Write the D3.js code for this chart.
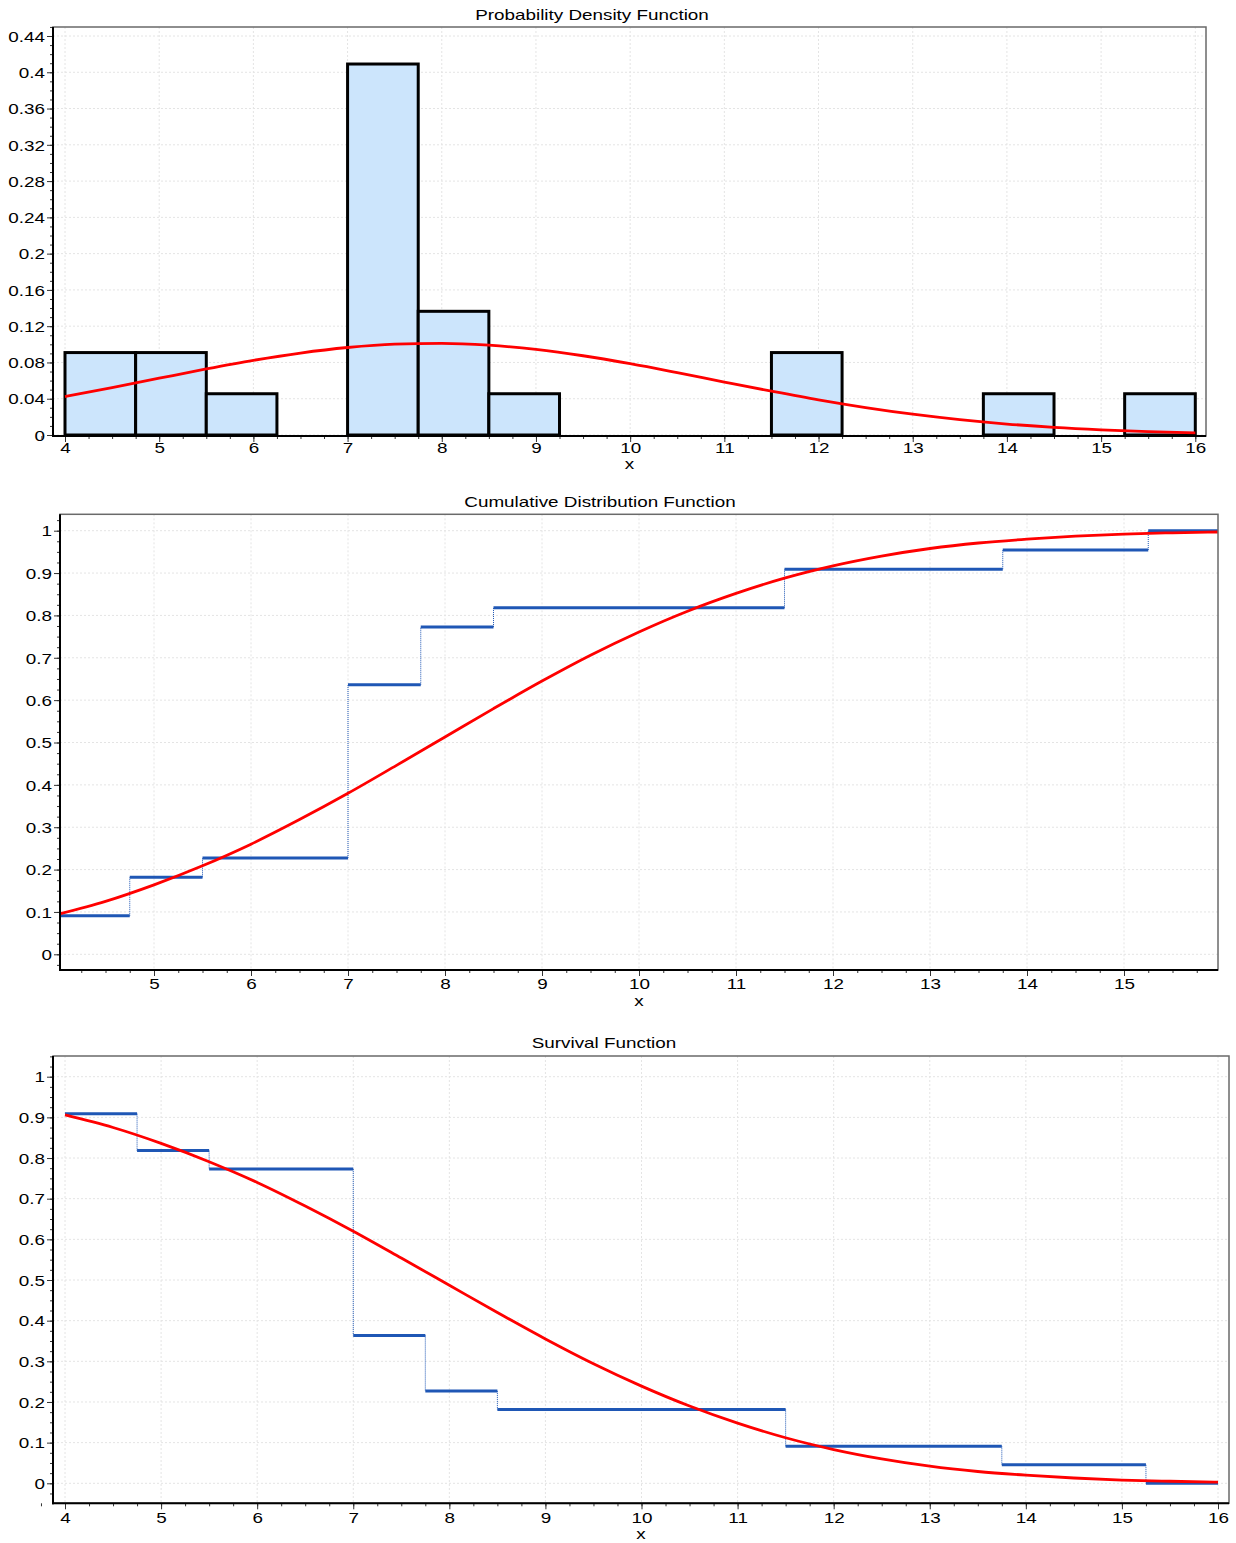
<!DOCTYPE html>
<html>
<head>
<meta charset="utf-8">
<script src="https://cdn.jsdelivr.net/npm/d3@7"></script>
<style>
  body { margin: 0; background: #fff; }
  svg text { font-family: "Liberation Sans", Arial, sans-serif; fill: #000; }
</style>
</head>
<body>
<svg id="chart" width="1236" height="1543"></svg>
<script>
// histogram (relative frequency per bin)
var binEdges = [4, 4.75, 5.5, 6.25, 7, 7.75, 8.5, 9.25, 10, 10.75, 11.5, 12.25, 13, 13.75, 14.5, 15.25, 16];
var binFreq = [0.0909, 0.0909, 0.0455, 0, 0.4091, 0.1364, 0.0455, 0, 0, 0, 0.0909, 0, 0, 0.0455, 0, 0.0455];

// empirical step functions
var stepX = [4, 4.75, 5.5, 7, 7.75, 8.5, 11.5, 13.75, 15.25, 16];
var cdfStep = [0.0909, 0.1818, 0.2273, 0.6364, 0.7727, 0.8182, 0.9091, 0.9545, 1.0];
var sfStep = [0.9091, 0.8182, 0.7727, 0.3636, 0.2273, 0.1818, 0.0909, 0.0455, 0];

// fitted curves
var curveX = [4, 4.5, 5, 5.5, 6, 6.5, 7, 7.5, 8, 8.5, 9, 9.5, 10, 10.5, 11, 11.5, 12, 12.5, 13, 13.5, 14, 14.5, 15, 15.5, 16];
var pdfFit = [0.0424, 0.0523, 0.0626, 0.0728, 0.0823, 0.0904, 0.0965, 0.1002, 0.1011, 0.0990, 0.0944, 0.0874, 0.0786,
              0.0687, 0.0584, 0.0483, 0.0387, 0.0302, 0.0229, 0.0169, 0.0121, 0.0084, 0.0057, 0.0037, 0.0024];
var cdfFit = [0.094, 0.125, 0.164, 0.209, 0.260, 0.318, 0.380, 0.446, 0.513, 0.580, 0.645, 0.706, 0.761,
              0.810, 0.852, 0.888, 0.917, 0.940, 0.958, 0.971, 0.980, 0.987, 0.992, 0.995, 0.997];
var sfFit = [0.906, 0.875, 0.836, 0.791, 0.740, 0.682, 0.620, 0.554, 0.487, 0.420, 0.355, 0.294, 0.239,
             0.190, 0.148, 0.112, 0.083, 0.060, 0.042, 0.029, 0.020, 0.013, 0.008, 0.005, 0.003];

// tick labels
var pdfYTicks = [0, 0.04, 0.08, 0.12, 0.16, 0.2, 0.24, 0.28, 0.32, 0.36, 0.4, 0.44];
var probYTicks = [0, 0.1, 0.2, 0.3, 0.4, 0.5, 0.6, 0.7, 0.8, 0.9, 1];
var fullXTicks = [4, 5, 6, 7, 8, 9, 10, 11, 12, 13, 14, 15, 16];
var cdfXTicks = [5, 6, 7, 8, 9, 10, 11, 12, 13, 14, 15];

var svg = d3.select('#chart');
var RED = '#ff0000';
var BLUE = '#1f57b5';
var FS = 14.5;

function makePanel(cfg) {
    var g = svg.append('g');
    var x = d3.scaleLinear().domain(cfg.xd).range(cfg.xr);
    var y = d3.scaleLinear().domain(cfg.yd).range(cfg.yr);
    var L = cfg.box[0], T = cfg.box[1], R = cfg.box[2], B = cfg.box[3];

    var clipId = 'clip' + cfg.id;
    svg.append('clipPath').attr('id', clipId)
        .append('rect').attr('x', L).attr('y', T).attr('width', R - L).attr('height', B - T);

    // grid
    g.selectAll('.gy').data(cfg.yTicks).enter().append('line')
        .attr('x1', L).attr('x2', R)
        .attr('y1', function(d) { return y(d); }).attr('y2', function(d) { return y(d); })
        .attr('stroke', '#e4e4e4').attr('stroke-dasharray', '2,2');
    g.selectAll('.gx').data(cfg.xTicks).enter().append('line')
        .attr('y1', T).attr('y2', B)
        .attr('x1', function(d) { return x(d); }).attr('x2', function(d) { return x(d); })
        .attr('stroke', '#e4e4e4').attr('stroke-dasharray', '2,2');

    var plot = g.append('g').attr('clip-path', 'url(#' + clipId + ')');

    // frame
    g.append('rect').attr('x', L).attr('y', T).attr('width', R - L).attr('height', B - T)
        .attr('fill', 'none').attr('stroke', '#6a6a6a').attr('stroke-width', 1.5);

    // axes
    var minorY = d3.range(cfg.minorY[0], cfg.minorY[1] + 1e-9, cfg.minorY[2]);
    var minorX = d3.range(cfg.minorX[0], cfg.minorX[1] + 1e-9, 0.25);

    var ay = g.append('g').attr('transform', 'translate(' + L + ',0)');
    ay.append('g').call(d3.axisLeft(y).tickValues(minorY).tickSize(3).tickFormat(''));
    ay.append('g').call(d3.axisLeft(y).tickValues(cfg.yTicks).tickSize(6).tickPadding(2)
        .tickFormat(function(d) { return String(d); }));

    var ax = g.append('g').attr('transform', 'translate(0,' + B + ')');
    ax.append('g').call(d3.axisBottom(x).tickValues(minorX).tickSize(3).tickFormat(''));
    ax.append('g').call(d3.axisBottom(x).tickValues(cfg.xTicks).tickSize(6)
        .tickFormat(function(d) { return String(d); }));

    g.selectAll('.domain').remove();
    g.selectAll('.tick line').attr('stroke', '#333');
    ay.selectAll('text').attr('font-size', FS).attr('x', -8).attr('dy', '0.36em');
    ax.selectAll('text').attr('font-size', FS).attr('y', cfg.xLabOff).attr('dy', 0);

    g.append('line').attr('x1', L).attr('x2', L).attr('y1', T).attr('y2', B + 1)
        .attr('stroke', '#000').attr('stroke-width', 2);
    g.append('line').attr('x1', L - 1).attr('x2', R).attr('y1', B).attr('y2', B)
        .attr('stroke', '#000').attr('stroke-width', 2);

    // title and axis label
    g.append('text').attr('x', cfg.titleX).attr('y', cfg.titleY)
        .attr('text-anchor', 'middle').attr('font-size', FS).text(cfg.title);
    g.append('text').attr('x', (L + R) / 2).attr('y', cfg.labelY)
        .attr('text-anchor', 'middle').attr('font-size', FS).text('x');

    return { x: x, y: y, plot: plot };
}

function drawSteps(p, xs, ys) {
    for (var i = 0; i < ys.length; i++) {
        p.plot.append('line')
            .attr('x1', p.x(xs[i])).attr('x2', p.x(xs[i + 1]))
            .attr('y1', p.y(ys[i])).attr('y2', p.y(ys[i]))
            .attr('stroke', BLUE).attr('stroke-width', 3);
        if (i > 0) {
            p.plot.append('line')
                .attr('x1', p.x(xs[i])).attr('x2', p.x(xs[i]))
                .attr('y1', p.y(ys[i - 1])).attr('y2', p.y(ys[i]))
                .attr('stroke', BLUE).attr('stroke-width', 1).attr('stroke-dasharray', '1,1');
        }
    }
}

function drawCurve(p, ys) {
    var line = d3.line()
        .x(function(d, i) { return p.x(curveX[i]); })
        .y(function(d) { return p.y(d); })
        .curve(d3.curveMonotoneX);
    p.plot.append('path').attr('d', line(ys))
        .attr('fill', 'none').attr('stroke', RED).attr('stroke-width', 2.8);
}

// Panel 1: PDF
var p1 = makePanel({
    id: 1, title: 'Probability Density Function', titleX: 592, titleY: 20, labelY: 469, xLabOff: 17,
    xd: [4, 16], xr: [65, 1195.3], yd: [0, 0.44], yr: [435, 36], box: [53, 27, 1206, 436],
    xTicks: fullXTicks, yTicks: pdfYTicks, minorY: [0, 0.45, 0.01], minorX: [3.75, 16.0]
});
p1.plot.selectAll('.bar').data(binFreq).enter().append('rect')
    .attr('x', function(d, i) { return p1.x(binEdges[i]); })
    .attr('width', function(d, i) { return p1.x(binEdges[i + 1]) - p1.x(binEdges[i]); })
    .attr('y', function(d) { return p1.y(d); })
    .attr('height', function(d) { return p1.y(0) - p1.y(d); })
    .attr('fill', function(d) { return d > 0 ? '#cce5fc' : 'none'; })
    .attr('stroke', function(d) { return d > 0 ? '#000' : '#444'; })
    .attr('stroke-width', function(d) { return d > 0 ? 3 : 1.5; });
drawCurve(p1, pdfFit);

// Panel 2: CDF
var p2 = makePanel({
    id: 2, title: 'Cumulative Distribution Function', titleX: 600, titleY: 507, labelY: 1006, xLabOff: 19,
    xd: [5, 15], xr: [154, 1124], yd: [0, 1], yr: [954.3, 530.7], box: [60, 514.3, 1218, 970],
    xTicks: cdfXTicks, yTicks: probYTicks, minorY: [-0.025, 1.025, 0.025], minorX: [4.25, 15.75]
});
drawSteps(p2, stepX, cdfStep);
drawCurve(p2, cdfFit);

// Panel 3: Survival
var p3 = makePanel({
    id: 3, title: 'Survival Function', titleX: 604, titleY: 1048, labelY: 1539, xLabOff: 19.5,
    xd: [4, 16], xr: [65, 1218], yd: [0, 1], yr: [1483.3, 1076.7], box: [53, 1056, 1229, 1503.3],
    xTicks: fullXTicks, yTicks: probYTicks, minorY: [-0.025, 1.05, 0.025], minorX: [3.75, 16.0]
});
drawSteps(p3, stepX, sfStep);
drawCurve(p3, sfFit);

// the source renders its labels horizontally widened
svg.selectAll('text').each(function() {
    var w = this.getComputedTextLength();
    if (w > 0) {
        d3.select(this).attr('textLength', w * 1.3).attr('lengthAdjust', 'spacingAndGlyphs');
    }
});
</script>
</body>
</html>
